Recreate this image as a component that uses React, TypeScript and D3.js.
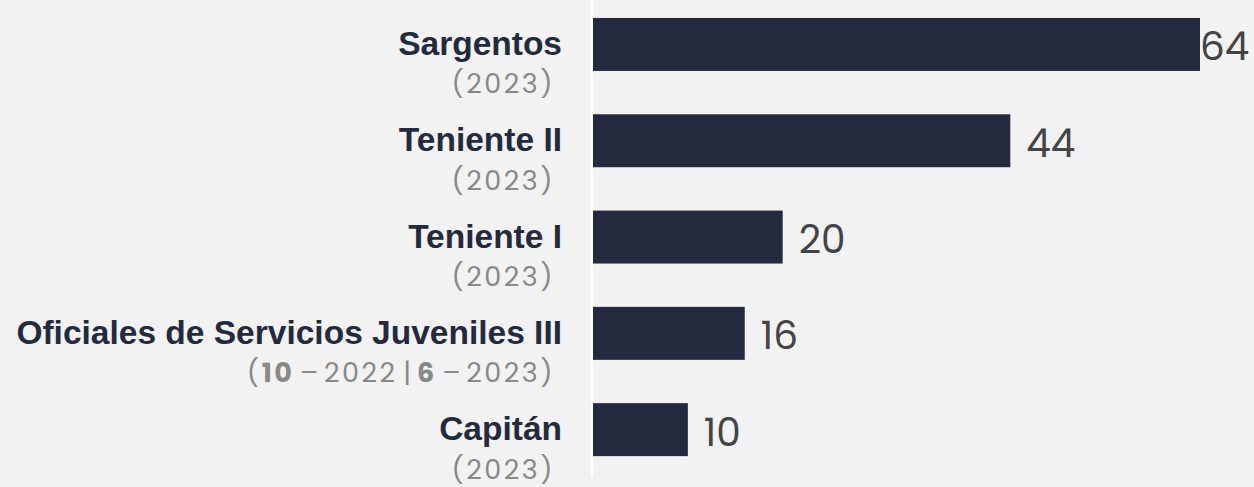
import { useEffect, useRef } from "react";
import * as d3 from "d3";

const categories = [
  "Sargentos",
  "Teniente II",
  "Teniente I",
  "Oficiales de Servicios Juveniles III",
  "Capitán",
];
const values = [64, 44, 20, 16, 10];
// year notes: pieces of [text, kind] (b = bold count, n = year, s = separator)
const notes: [string, string][][] = [
  [["2023", "n"]],
  [["2023", "n"]],
  [["2023", "n"]],
  [["10", "b"], [" – ", "s"], ["2022", "n"], [" | ", "s"], ["6", "b"], [" – ", "s"], ["2023", "n"]],
  [["2023", "n"]],
];

const W = 1254;
const H = 487;

export default function App() {
  const svgRef = useRef<SVGSVGElement>(null);

  useEffect(() => {
    document.body.style.margin = "0";
    if (!svgRef.current) return;
    const svg = d3.select(svgRef.current);
    svg.selectAll("*").remove();

    svg.append("rect").attr("width", W).attr("height", H).attr("fill", "#f2f2f2");

    const x = d3.scaleLinear().domain([0, 64]).range([593, 1200]);
    const y = d3.scaleBand<string>()
      .domain(categories)
      .range([-3.7, 477.8])
      .paddingInner(0.45)
      .paddingOuter(0.225);

    svg.append("line")
      .attr("x1", 592).attr("x2", 592)
      .attr("y1", 0).attr("y2", 477)
      .attr("stroke", "#ffffff")
      .attr("stroke-width", 2);

    categories.forEach((c, i) => {
      const by = y(c)!;
      const cy = by + y.bandwidth() / 2;
      const v = values[i];

      svg.append("rect")
        .attr("x", x(0))
        .attr("y", by)
        .attr("width", x(v) - x(0))
        .attr("height", y.bandwidth())
        .attr("fill", "#232a3e");

      const xv = Math.min(x(v) + 16, W - 54);
      svg.append("text")
        .attr("x", xv)
        .attr("y", cy + 16)
        .attr("font-family", "Poppins, 'Open Sans', sans-serif")
        .attr("font-weight", 400)
        .attr("font-size", 39)
        .attr("fill", "#444444")
        .text(v);

      svg.append("text")
        .attr("x", 562)
        .attr("y", cy + 10.5)
        .attr("text-anchor", "end")
        .attr("font-family", "'Liberation Sans', Arial, sans-serif")
        .attr("font-weight", 700)
        .attr("font-size", 33.5)
        .attr("fill", "#232a3e")
        .text(c);

      const t = svg.append("text")
        .attr("x", 555)
        .attr("y", cy + 49)
        .attr("text-anchor", "end")
        .attr("font-family", "Poppins, 'Open Sans', sans-serif")
        .attr("font-weight", 400)
        .attr("font-size", 27)
        .attr("letter-spacing", 2.5)
        .attr("fill", "#888888");
      t.append("tspan").text("(");
      notes[i].forEach(([s, k]) => {
        const ts = t.append("tspan").attr("font-weight", k === "b" ? 700 : 400).text(s);
        if (k === "s") ts.attr("letter-spacing", 0).attr("word-spacing", -1.5);
      });
      t.append("tspan").text(")");
    });
  }, []);

  return <svg ref={svgRef} width={W} height={H} style={{ display: "block" }} />;
}
